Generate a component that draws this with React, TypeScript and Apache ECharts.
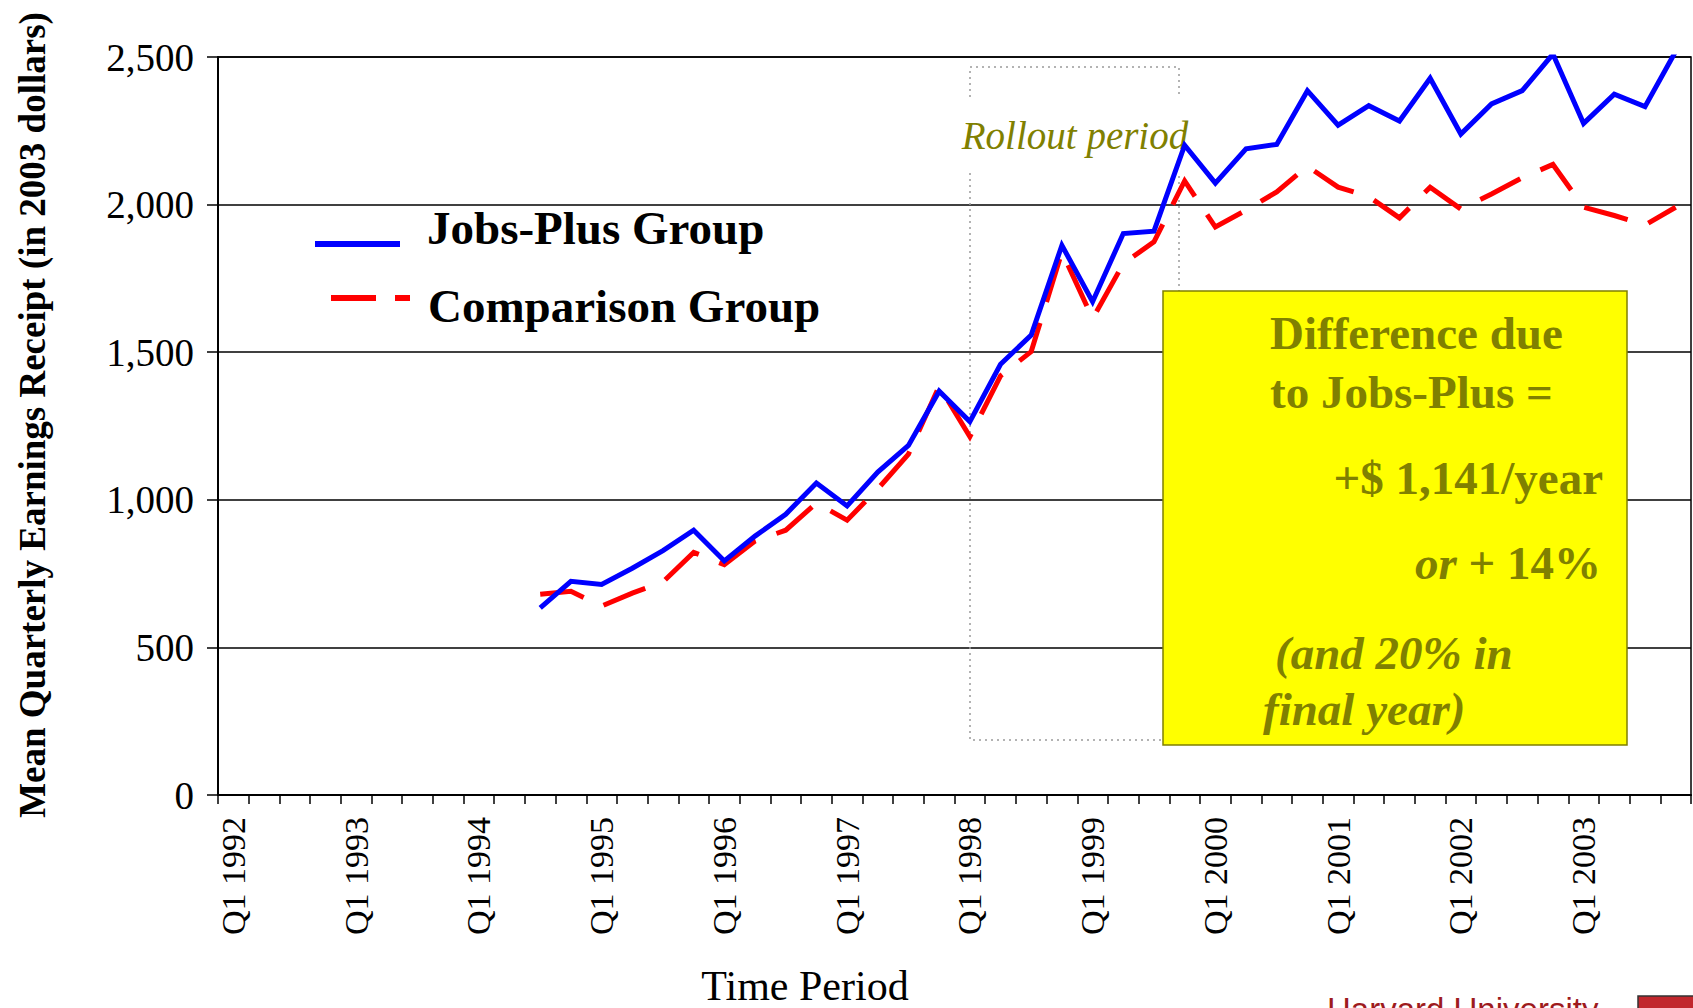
import React, { useEffect, useRef } from "react";
import * as echarts from "echarts";

const years = [1992, 1993, 1994, 1995, 1996, 1997, 1998, 1999, 2000, 2001, 2002, 2003];
const quarters = ["Q1", "Q2", "Q3", "Q4"];
const quarterLabels = years.flatMap((y) => quarters.map((q) => `${q} ${y}`));
const firstDataQuarter = "Q3 1994";

// Q3 1994 .. Q4 2003
const jobsPlus = [
  634, 724, 713, 768, 828, 897, 793, 877, 951, 1057, 979, 1094, 1184, 1368, 1265, 1459,
  1558, 1862, 1671, 1902, 1910, 2201, 2073, 2189, 2204, 2386, 2269, 2335, 2283, 2428,
  2239, 2341, 2386, 2510, 2275, 2374, 2332, 2519,
];
const comparison = [
  680, 690, 640, 684, 722, 822, 780, 860, 897, 989, 931, 1037, 1155, 1385, 1214, 1420,
  1502, 1840, 1614, 1800, 1874, 2080, 1924, 1981, 2043, 2130, 2059, 2027, 1955, 2059,
  1985, 2036, 2091, 2136, 1991, 1963, 1931, 1991,
];

const yMin = 0;
const yMax = 2500;
const yStep = 500;

const seriesNames = ["Jobs-Plus Group", "Comparison Group"];
const boxLines = [
  "Difference due",
  "to Jobs-Plus =",
  "+$ 1,141/year",
  "or",
  "+ 14%",
  "(and 20% in",
  "final year)",
];

const SERIF = '"Liberation Serif", "Times New Roman", serif';
const OLIVE = "#808000";

function pad(values: number[]) {
  const offset = quarterLabels.indexOf(firstDataQuarter);
  return quarterLabels.map((_, i) => (i < offset ? null : values[i - offset]));
}

export default function App() {
  const ref = useRef<HTMLDivElement>(null);

  useEffect(() => {
    if (!ref.current) return;
    const chart = echarts.init(ref.current, null, { renderer: "svg" });

    const textStyle = (extra: any) => ({
      fontFamily: SERIF,
      fill: "#000",
      ...extra,
    });

    chart.setOption({
      animation: false,
      backgroundColor: "#fff",
      grid: {
        left: 218,
        right: 2,
        top: 57,
        bottom: 213,
        show: true,
        borderColor: "#000",
        borderWidth: 1.5,
        backgroundColor: "transparent",
      },
      xAxis: {
        type: "category",
        data: quarterLabels,
        boundaryGap: true,
        axisLine: { show: true, lineStyle: { color: "#000", width: 2 } },
        axisTick: {
          show: true,
          interval: 0,
          length: 9,
          lineStyle: { color: "#000", width: 1.5 },
        },
        axisLabel: {
          interval: 3,
          rotate: 90,
          margin: 22,
          fontSize: 34,
          color: "#000",
          fontFamily: SERIF,
        },
        splitLine: { show: false },
      },
      yAxis: {
        type: "value",
        min: yMin,
        max: yMax,
        interval: yStep,
        axisLine: { show: true, lineStyle: { color: "#000", width: 2 } },
        axisTick: { show: true, length: 11, lineStyle: { color: "#000", width: 1.5 } },
        axisLabel: {
          fontSize: 39,
          margin: 24,
          color: "#000",
          fontFamily: SERIF,
          formatter: (v: number) => v.toLocaleString("en-US"),
        },
        splitLine: { show: true, lineStyle: { color: "#000", width: 1.5 } },
      },
      series: [
        {
          name: seriesNames[0],
          type: "line",
          data: pad(jobsPlus),
          symbol: "none",
          z: 5,
          lineStyle: { color: "#0000ff", width: 5, join: "miter" },
          itemStyle: { color: "#0000ff" },
        },
        {
          name: seriesNames[1],
          type: "line",
          data: pad(comparison),
          symbol: "none",
          z: 4,
          lineStyle: { color: "#ff0000", width: 5, type: [45, 22], join: "miter" },
          itemStyle: { color: "#ff0000" },
        },
      ],
      graphic: [
        // Rollout period dotted box
        {
          type: "rect",
          z: 1,
          shape: { x: 970, y: 67, width: 209, height: 673 },
          style: { fill: "none", stroke: "#9a9a9a", lineWidth: 1.5, lineDash: [2, 4] },
          silent: true,
        },
        {
          type: "text",
          z: 1,
          x: 1075,
          y: 135,
          style: textStyle({
            text: "Rollout period",
            fontSize: 39,
            fontStyle: "italic",
            fill: OLIVE,
            align: "center",
            verticalAlign: "middle",
            backgroundColor: "#fff",
            padding: [18, 2],
          }),
          silent: true,
        },
        // Legend
        {
          type: "line",
          z: 6,
          shape: { x1: 315, y1: 244, x2: 400, y2: 244 },
          style: { stroke: "#0000ff", lineWidth: 6 },
        },
        {
          type: "text",
          z: 6,
          x: 427,
          y: 228,
          style: textStyle({
            text: seriesNames[0],
            fontSize: 47,
            fontWeight: "bold",
            align: "left",
            verticalAlign: "middle",
          }),
        },
        {
          type: "line",
          z: 6,
          shape: { x1: 331, y1: 298, x2: 410, y2: 298 },
          style: { stroke: "#ff0000", lineWidth: 6, lineDash: [45, 19] },
        },
        {
          type: "text",
          z: 6,
          x: 428,
          y: 306,
          style: textStyle({
            text: seriesNames[1],
            fontSize: 47,
            fontWeight: "bold",
            align: "left",
            verticalAlign: "middle",
          }),
        },
        // Yellow annotation box
        {
          type: "rect",
          z: 6,
          shape: { x: 1163, y: 291, width: 464, height: 454 },
          style: { fill: "#ffff00", stroke: OLIVE, lineWidth: 1.5 },
        },
        {
          type: "text",
          z: 7,
          x: 1270,
          y: 333,
          style: textStyle({
            text: boxLines[0],
            fontSize: 47,
            fontWeight: "bold",
            fill: OLIVE,
            align: "left",
            verticalAlign: "middle",
          }),
        },
        {
          type: "text",
          z: 7,
          x: 1270,
          y: 392,
          style: textStyle({
            text: boxLines[1],
            fontSize: 47,
            fontWeight: "bold",
            fill: OLIVE,
            align: "left",
            verticalAlign: "middle",
          }),
        },
        {
          type: "text",
          z: 7,
          x: 1603,
          y: 478,
          style: textStyle({
            text: boxLines[2],
            fontSize: 47,
            fontWeight: "bold",
            fill: OLIVE,
            align: "right",
            verticalAlign: "middle",
          }),
        },
        {
          type: "text",
          z: 7,
          x: 1601,
          y: 563,
          style: {
            text: `{i|${boxLines[3]}}{n| ${boxLines[4]}}`,
            align: "right",
            verticalAlign: "middle",
            rich: {
              i: {
                fontFamily: SERIF,
                fontSize: 47,
                fontWeight: "bold",
                fontStyle: "italic",
                fill: OLIVE,
              },
              n: {
                fontFamily: SERIF,
                fontSize: 47,
                fontWeight: "bold",
                fill: OLIVE,
              },
            },
          },
        },
        {
          type: "text",
          z: 7,
          x: 1275,
          y: 653,
          style: textStyle({
            text: boxLines[5],
            fontSize: 47,
            fontWeight: "bold",
            fontStyle: "italic",
            fill: OLIVE,
            align: "left",
            verticalAlign: "middle",
          }),
        },
        {
          type: "text",
          z: 7,
          x: 1263,
          y: 709,
          style: textStyle({
            text: boxLines[6],
            fontSize: 47,
            fontWeight: "bold",
            fontStyle: "italic",
            fill: OLIVE,
            align: "left",
            verticalAlign: "middle",
          }),
        },
        // Axis titles
        {
          type: "text",
          x: 32,
          y: 415,
          rotation: Math.PI / 2,
          style: textStyle({
            text: "Mean Quarterly Earnings Receipt (in 2003 dollars)",
            fontSize: 37,
            fontWeight: "bold",
            align: "center",
            verticalAlign: "middle",
          }),
        },
        {
          type: "text",
          x: 805,
          y: 986,
          style: textStyle({
            text: "Time Period",
            fontSize: 42,
            align: "center",
            verticalAlign: "middle",
          }),
        },
        // Footer
        {
          type: "text",
          x: 1327,
          y: 1009,
          style: {
            text: "Harvard University",
            fontFamily: '"Liberation Sans", Arial, sans-serif',
            fontSize: 33,
            fill: "#9e1b1e",
            align: "left",
            verticalAlign: "middle",
          },
        },
        {
          type: "rect",
          shape: { x: 1638, y: 996, width: 60, height: 20 },
          style: { fill: "#c1272d", stroke: "#333", lineWidth: 1.5 },
        },
      ],
    });

    return () => chart.dispose();
  }, []);

  return (
    <div
      ref={ref}
      style={{ position: "absolute", left: 0, top: 0, width: 1693, height: 1008 }}
    />
  );
}
